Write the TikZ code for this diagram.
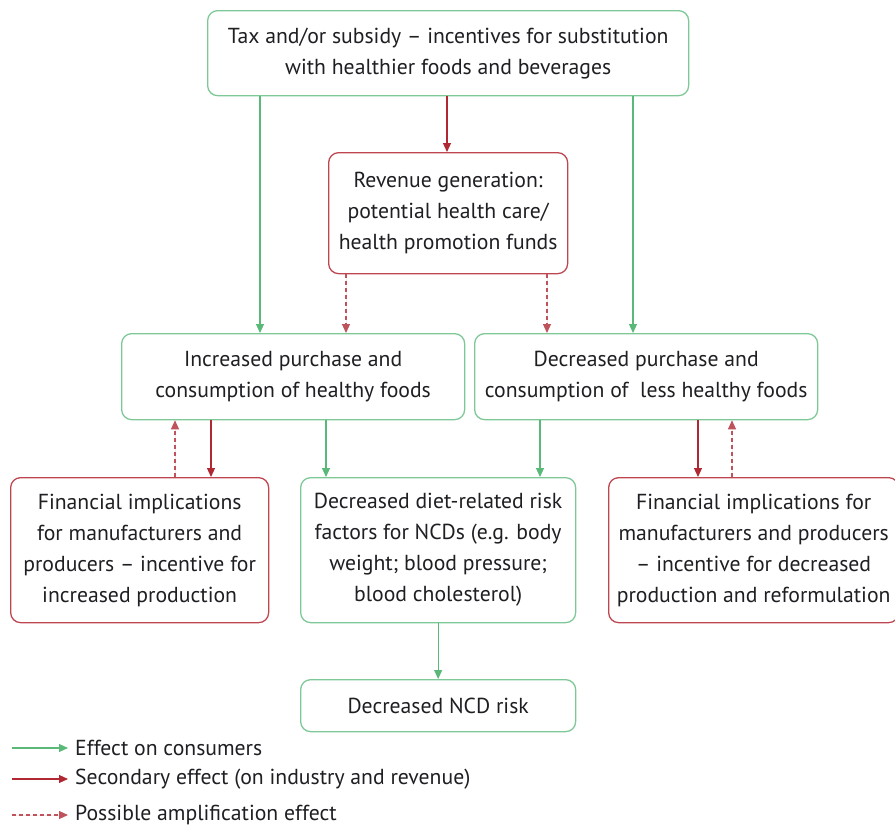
\documentclass[tikz,border=0pt]{standalone}
\usepackage{fontspec}
\setmainfont{PT Sans}
\usetikzlibrary{arrows.meta}
\definecolor{gbox}{RGB}{125,200,150}
\definecolor{garr}{RGB}{90,185,120}
\definecolor{rbox}{RGB}{190,70,80}
\definecolor{rarr}{RGB}{175,40,50}
\definecolor{txt}{RGB}{30,30,35}
\tikzset{
  box/.style={draw, rounded corners=10pt, line width=1.3pt, align=center, text=txt, font=\fontsize{21.7}{31}\selectfont, inner sep=0pt, anchor=north west},
  gbx/.style={box, draw=gbox},
  rbx/.style={box, draw=rbox},
  tip/.style={-{Triangle[length=9pt,width=8pt]}},
  garrow/.style={tip, draw=garr, line width=1.1pt, fill=garr},
  rarrow/.style={tip, draw=rarr, line width=1.1pt, fill=rarr},
  darrow/.style={tip, draw=rarr!80, line width=1.1pt, dash pattern=on 4pt off 3pt, fill=rarr!80},
  lbl/.style={text=txt, font=\fontsize{21.7}{24}\selectfont, anchor=west, inner sep=0pt}
}
\begin{document}
\begin{tikzpicture}[x=1pt,y=-1pt]
\useasboundingbox (0,0) rectangle (895,827);
\node[gbx, minimum width=481pt, minimum height=85pt] (tax) at (207,10) {Tax and/or subsidy – incentives for substitution\\with healthier foods and beverages};
\node[rbx, minimum width=239pt, minimum height=121pt] (rev) at (328,152) {Revenue generation:\\potential health care/\\health promotion funds};
\node[gbx, minimum width=343pt, minimum height=86pt] (inc) at (121,333) {Increased purchase and\\consumption of healthy foods};
\node[gbx, minimum width=343pt, minimum height=86pt] (dec) at (474,333) {Decreased purchase and\\consumption of \ less healthy foods};
\node[rbx, minimum width=258pt, minimum height=145pt] (finl) at (10,477) {Financial implications\\for manufacturers and\\producers – incentive for\\increased production};
\node[gbx, minimum width=275pt, minimum height=145pt] (diet) at (300,477) {Decreased diet-related risk\\factors for NCDs (e.g. body\\weight; blood pressure;\\blood cholesterol)};
\node[rbx, minimum width=290pt, minimum height=145pt] (finr) at (608,477) {Financial implications for\\manufacturers and producers\\– incentive for decreased\\production and reformulation};
\node[gbx, minimum width=275pt, minimum height=52pt] (ncd) at (300,679) {Decreased NCD risk};

\draw[garrow] (tax.south -| 260,0) -- (inc.north -| 260,0);
\draw[rarrow] (tax.south -| 447,0) -- (rev.north -| 447,0);
\draw[garrow] (tax.south -| 633,0) -- (dec.north -| 633,0);
\draw[darrow] (rev.south -| 346,0) -- (inc.north -| 346,0);
\draw[darrow] (rev.south -| 547,0) -- (dec.north -| 547,0);
\draw[darrow] (finl.north -| 175,0) -- (inc.south -| 175,0);
\draw[rarrow] (inc.south -| 211,0) -- (finl.north -| 211,0);
\draw[garrow] (inc.south -| 326,0) -- (diet.north -| 326,0);
\draw[garrow] (dec.south -| 540,0) -- (diet.north -| 540,0);
\draw[rarrow] (dec.south -| 698,0) -- (finr.north -| 698,0);
\draw[darrow] (finr.north -| 732,0) -- (dec.south -| 732,0);
\draw[garrow] (diet.south) -- (ncd.north);

\coordinate (l1a) at (12,748); \coordinate (l1b) at (68,748);
\coordinate (l2a) at (12,779); \coordinate (l2b) at (68,779);
\coordinate (l3a) at (12,815); \coordinate (l3b) at (68,815);
\draw[garrow] (l1a) -- (l1b);
\draw[rarrow] (l2a) -- (l2b);
\draw[darrow] (l3a) -- (l3b);
\node[lbl] (t1) at (75,748) {Effect on consumers};
\node[lbl] (t2) at (75,779) {Secondary effect (on industry and revenue)};
\node[lbl] (t3) at (75,815) {Possible amplification effect};
\end{tikzpicture}
\end{document}
